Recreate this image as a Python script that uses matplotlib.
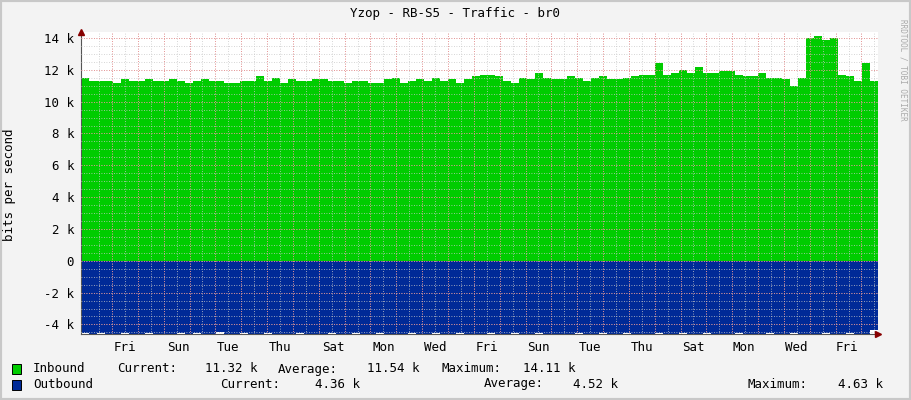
import numpy as np
import matplotlib.pyplot as plt

# inbound / outbound in k bits per second, one sample every ~0.154 day
inbound = [11.5, 11.3, 11.3, 11.3, 11.2, 11.4, 11.3, 11.3, 11.4, 11.3,
           11.3, 11.4, 11.3, 11.2, 11.3, 11.4, 11.3, 11.3, 11.2, 11.2,
           11.3, 11.3, 11.6, 11.3, 11.5, 11.2, 11.4, 11.3, 11.3, 11.4,
           11.4, 11.3, 11.3, 11.2, 11.3, 11.3, 11.2, 11.2, 11.4, 11.5,
           11.2, 11.3, 11.4, 11.3, 11.5, 11.3, 11.4, 11.2, 11.4, 11.6,
           11.7, 11.7, 11.6, 11.3, 11.2, 11.5, 11.4, 11.8, 11.5, 11.4,
           11.4, 11.6, 11.5, 11.3, 11.5, 11.6, 11.4, 11.4, 11.5, 11.6,
           11.7, 11.7, 12.4, 11.7, 11.8, 12.0, 11.8, 12.2, 11.8, 11.8,
           11.9, 11.9, 11.7, 11.6, 11.6, 11.8, 11.5, 11.5, 11.4, 11.0,
           11.5, 14.0, 14.1, 13.9, 14.0, 11.7, 11.6, 11.3, 12.4, 11.3]
outbound = [4.55, 4.58, 4.56, 4.6, 4.58, 4.55, 4.6, 4.58, 4.56, 4.6,
            4.58, 4.6, 4.56, 4.58, 4.55, 4.6, 4.58, 4.5, 4.58, 4.6,
            4.56, 4.6, 4.58, 4.55, 4.6, 4.58, 4.6, 4.56, 4.58, 4.6,
            4.6, 4.56, 4.58, 4.6, 4.55, 4.58, 4.6, 4.56, 4.58, 4.6,
            4.58, 4.56, 4.6, 4.58, 4.55, 4.6, 4.58, 4.56, 4.6, 4.58,
            4.6, 4.56, 4.58, 4.6, 4.55, 4.58, 4.6, 4.56, 4.58, 4.6,
            4.58, 4.6, 4.56, 4.58, 4.6, 4.55, 4.58, 4.6, 4.56, 4.58,
            4.6, 4.58, 4.56, 4.6, 4.58, 4.55, 4.6, 4.58, 4.56, 4.6,
            4.58, 4.6, 4.56, 4.58, 4.6, 4.58, 4.55, 4.6, 4.58, 4.56,
            4.6, 4.58, 4.6, 4.56, 4.58, 4.6, 4.55, 4.58, 4.6, 4.36]
day_labels = ['Fri', 'Sun', 'Tue', 'Thu', 'Sat', 'Mon', 'Wed', 'Fri',
              'Sun', 'Tue', 'Thu', 'Sat', 'Mon', 'Wed', 'Fri']
ytick_vals = [-4, -2, 0, 2, 4, 6, 8, 10, 12, 14]
ytick_text = ['-4 k', '-2 k', '0', '2 k', '4 k', '6 k', '8 k', '10 k', '12 k', '14 k']

span = 15.42  # days shown
t = np.linspace(0, span, len(inbound) + 1)

plt.rcParams['font.family'] = 'DejaVu Sans Mono'
fig = plt.figure(figsize=(9.11, 4.0), dpi=100, facecolor='#f3f3f3')
ax = fig.add_axes([81/911, 66/400, 797/911, 302/400], facecolor='white')

ax.stairs(inbound, t, baseline=0, fill=True, color='#00cc00', lw=0)
ax.stairs([-v for v in outbound], t, baseline=0, fill=True, color='#002a97', lw=0)

# grid like rrdtool
for x in np.arange(0.35, span, 0.25):
    ax.axvline(x, color='#c8c8c8', lw=0.6, ls=(0, (1, 2)), zorder=3)
for x in np.arange(0.6, span, 0.5):
    ax.axvline(x, color='#f08080', lw=0.6, ls=(0, (1, 2)), zorder=3)
for y in np.arange(-4.5, 14.4, 0.5):
    ax.axhline(y, color='#c8c8c8', lw=0.6, ls=(0, (1, 2)), zorder=3)
for y in ytick_vals:
    ax.axhline(y, color='#f08080', lw=0.6, ls=(0, (1, 2)), zorder=3)

ax.set_xlim(0, span)
ax.set_ylim(-4.6, 14.375)
for s in ['top', 'right']:
    ax.spines[s].set_visible(False)
ax.spines['left'].set_color('#555555')
ax.spines['bottom'].set_color('#555555')
ax.plot([0], [14.375], marker='^', color='#880000', ms=4, clip_on=False, zorder=5)
ax.plot([span], [-4.6], marker='>', color='#880000', ms=4, clip_on=False, zorder=5)

ax.set_yticks(ytick_vals)
ax.set_yticklabels(ytick_text, fontsize=9)
ax.set_xticks([0.85 + 2 * k for k in range(len(day_labels)) if 0.85 + 2 * k < span][:0] or [])
ax.set_xticks([0.85 + i * 1.0 * 2 / 2 * 2 / 2 for i in range(0)] )
xt = [0.85 + i for i in range(len(day_labels))]
xt = [0.85 + i * 1.0 for i in range(15)]
ax.set_xticks([0.85 + i for i in range(15)][:0])
ax.set_xticks([0.85 + 2 * i / 2 * 1 for i in range(15)][:0])
# label every other day as in the reference (one label per ~2 days? no: one per day pair)
pos = [0.85 + i * (span - 0.85) / 14.2 for i in range(15)]
pos = [0.85 + i * 1.0 for i in range(15)]
ax.set_xticks([(125 + i * 51.7 - 81) / 51.7 * 1.0 for i in range(0)])
ax.set_xticks([p for p in np.array([125, 178, 228, 280, 333, 384, 435, 487,
                                    538, 590, 642, 693, 744, 796, 847]) * 0 + 0][:0])
ticks_px = [125, 178, 228, 280, 333, 384, 435, 487, 538, 590, 642, 693, 744, 796, 847]
ax.set_xticks([(p - 81) / 797 * span for p in ticks_px])
ax.set_xticklabels(day_labels, fontsize=9)
ax.tick_params(axis='both', length=0, pad=5)

fig.text(0.5, 1 - 13/400, 'Yzop - RB-S5 - Traffic - br0', ha='center', va='center', fontsize=9)
fig.text(10/911, 1 - 185/400, 'bits per second', rotation=90, ha='center', va='center', fontsize=9)
fig.text(903/911, 1 - 70/400, 'RRDTOOL / TOBI OETIKER', rotation=270, ha='center',
         va='center', fontsize=5.5, color='#aaaaaa')

fig.patches.append(plt.Rectangle((12/911, 1 - 374/400), 9/911, 10/400, transform=fig.transFigure,
                                 facecolor='#00cc00', edgecolor='black', lw=0.7))
fig.patches.append(plt.Rectangle((12/911, 1 - 390/400), 9/911, 10/400, transform=fig.transFigure,
                                 facecolor='#002a97', edgecolor='black', lw=0.7))
row1 = [(33, 'Inbound'), (117, 'Current:'), (205, '11.32 k'), (278, 'Average:'),
        (367, '11.54 k'), (441, 'Maximum:'), (523, '14.11 k')]
row2 = [(33, 'Outbound'), (220, 'Current:'), (315, '4.36 k'), (484, 'Average:'),
        (573, '4.52 k'), (748, 'Maximum:'), (838, '4.63 k')]
for x, s in row1:
    fig.text(x/911, 1 - 369/400, s, va='center', fontsize=9)
for x, s in row2:
    fig.text(x/911, 1 - 384/400, s, va='center', fontsize=9)
fig.patches.append(plt.Rectangle((0, 0), 1, 1, transform=fig.transFigure, fill=False,
                                 edgecolor='#c8c8c8', lw=3))

fig.savefig('out.png', dpi=100, facecolor=fig.get_facecolor())
